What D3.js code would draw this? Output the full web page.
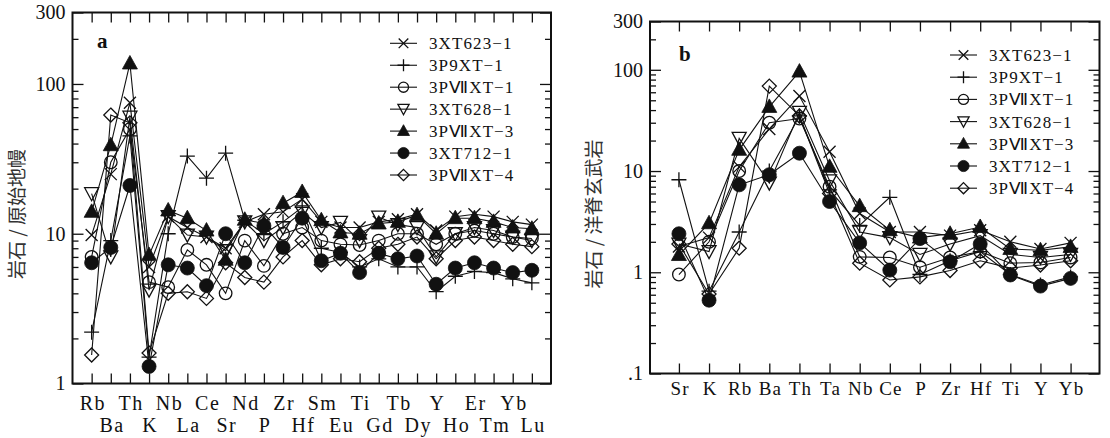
<!DOCTYPE html>
<html><head><meta charset="utf-8">
<script src="https://cdn.jsdelivr.net/npm/d3@7"></script>
<style>
html,body{margin:0;padding:0;background:#fff;}
svg{display:block;}
</style></head>
<body>
<svg id="chart" width="1110" height="438"></svg>
<script>
// ---------- DATA ----------
const seriesNames = ["3XT623\u22121","3P9XT\u22121","3P\u2166XT\u22121","3XT628\u22121","3P\u2166XT\u22123","3XT712\u22121","3P\u2166XT\u22124"];
const seriesMarkers = ["times","plus","circleOpen","triDownOpen","triUpFilled","circleFilled","diamondOpen"];

// Panel a: rock / primitive mantle
const elementsA = ["Rb","Ba","Th","K","Nb","La","Ce","Sr","Nd","P","Zr","Hf","Sm","Eu","Ti","Gd","Tb","Dy","Y","Ho","Er","Tm","Yb","Lu"];
const a_3XT623_1  = [9.8, 25, 75, 6.0, 13, 11, 9.5, 8, 12, 13.5, 14, 17, 12, 11, 11, 12, 12.5, 13.5, 10.5, 13, 13.5, 13, 12, 11.5];
const a_3P9XT_1   = [2.2, 9, 45, 1.5, 10, 33, 23.5, 34.5, 12.3, 10, 12, 15, 8, 7.5, 6, 6.8, 6.0, 6.0, 4.1, 5.2, 5.6, 5.5, 5.0, 4.7];
const a_3PVIIXT_1 = [7, 30, 50, 4.75, 4.4, 7.8, 6.2, 4.0, 9, 6.1, 10, 11, 9, 8.5, 8.4, 9, 10, 10, 8.5, 10, 10.5, 10, 9.5, 9.3];
const a_3XT628_1  = [18.5, 7, 60, 4.2, 13, 9.8, 9.5, 7.7, 12, 9, 11, 14, 11, 11.9, 9, 12.9, 11.5, 11, 7, 10, 11, 10.5, 9.5, 9];
const a_3PVIIXT_3 = [14, 39, 137, 7.2, 14.3, 12.7, 10.5, 6.7, 12.4, 11.7, 16, 19, 12.3, 10.2, 10, 11.7, 12, 13.3, 10, 12.7, 12.7, 12, 11, 10.8];
const a_3XT712_1  = [6.4, 8.1, 21, 1.3, 6.2, 5.9, 4.5, 10, 6.4, 11.3, 8.1, 12.7, 6.6, 7.4, 5.5, 7.4, 6.8, 7.1, 4.6, 5.9, 6.4, 5.9, 5.5, 5.7];
const a_3PVIIXT_4 = [1.55, 62, 55, 1.6, 4.0, 4.1, 3.7, 6.4, 5.1, 4.75, 7, 9, 6.2, 6.8, 6.5, 8, 8.5, 9.5, 6.8, 9, 9.5, 9, 8.5, 8.2];
const yTicksA = [1, 10, 100, 300];

// Panel b: rock / MORB
const elementsB = ["Sr","K","Rb","Ba","Th","Ta","Nb","Ce","P","Zr","Hf","Ti","Y","Yb"];
const b_3XT623_1  = [1.8, 2.2, 11, 26, 55, 15.5, 3.8, 2.5, 2.5, 2.3, 2.6, 2.0, 1.7, 1.95];
const b_3P9XT_1   = [8.2, 0.65, 2.5, 10, 35, 6.5, 2.9, 5.5, 0.95, 1.3, 1.6, 0.95, 0.75, 0.9];
const b_3PVIIXT_1 = [0.95, 2.0, 10, 30, 33, 7, 1.42, 1.4, 1.12, 1.4, 1.6, 1.23, 1.25, 1.4];
const b_3XT628_1  = [1.9, 1.6, 21, 7.6, 38, 8, 2.5, 2.2, 1.5, 1.9, 2.3, 1.5, 1.4, 1.5];
const b_3PVIIXT_3 = [1.48, 3.05, 16.2, 43, 96, 11, 4.5, 2.6, 2.2, 2.4, 2.8, 1.7, 1.65, 1.78];
const b_3XT712_1  = [2.4, 0.53, 7.3, 9.2, 15, 5, 1.95, 1.05, 2.15, 1.27, 1.9, 0.94, 0.73, 0.87];
const b_3PVIIXT_4 = [1.9, 0.61, 1.73, 69, 35, 6, 1.23, 0.84, 0.9, 1.04, 1.3, 1.1, 1.18, 1.3];
const yTicksB = [0.1, 1, 10, 100, 300];
const yTickLabelsB = [".1", "1", "10", "100", "300"];

// ---------- DRAWING ----------
const svg = d3.select("#chart");
const SERIF = "'Liberation Serif','Times New Roman',serif";

function markerPath(type, k) {
  const p = d3.path();
  if (type === "times") { const a = 6*k; p.moveTo(-a,-a); p.lineTo(a,a); p.moveTo(-a,a); p.lineTo(a,-a); }
  else if (type === "plus") { const a = 7.5*k; p.moveTo(-a,0); p.lineTo(a,0); p.moveTo(0,-a); p.lineTo(0,a); }
  else if (type === "circleOpen") { const r = 6.3*k; p.arc(0,0,r,0,2*Math.PI); }
  else if (type === "circleFilled") { const r = 7*k; p.arc(0,0,r,0,2*Math.PI); }
  else if (type === "triDownOpen") { p.moveTo(-7*k,-6*k); p.lineTo(7*k,-6*k); p.lineTo(0,7*k); p.closePath(); }
  else if (type === "triUpFilled") { p.moveTo(0,-8*k); p.lineTo(7.5*k,5.5*k); p.lineTo(-7.5*k,5.5*k); p.closePath(); }
  else if (type === "diamondOpen") { const a = 7*k; p.moveTo(0,-a); p.lineTo(a,0); p.lineTo(0,a); p.lineTo(-a,0); p.closePath(); }
  return p.toString();
}
function styleMarker(sel, type) {
  const filled = type === "circleFilled" || type === "triUpFilled";
  sel.attr("fill", filled ? "#111" : "none")
     .attr("stroke", "#111")
     .attr("stroke-width", filled ? 0.8 : 1.3);
}

function drawPanel(cfg) {
  const g = svg.append("g");
  const x = d3.scalePoint().domain(cfg.elements).range([cfg.left, cfg.right]).padding(cfg.pad);
  const y = d3.scaleLog().domain(cfg.yDomain).range([cfg.bottom, cfg.top]);

  const allTicks = y.ticks().filter(v => v >= cfg.yDomain[0] && v <= cfg.yDomain[1]);
  const minorTicks = allTicks.filter(v => cfg.yMajor.indexOf(v) < 0);

  const axL = g.append("g").attr("transform", `translate(${cfg.left},0)`)
    .call(d3.axisLeft(y).tickValues(minorTicks).tickSize(-6).tickSizeOuter(0).tickFormat(""));
  const axLM = g.append("g").attr("transform", `translate(${cfg.left},0)`)
    .call(d3.axisLeft(y).tickValues(cfg.yMajor).tickSize(-11).tickSizeOuter(0).tickPadding(7)
      .tickFormat((d,i) => cfg.yLabels[i]));
  const axR = g.append("g").attr("transform", `translate(${cfg.right},0)`)
    .call(d3.axisRight(y).tickValues(minorTicks).tickSize(-6).tickSizeOuter(0).tickFormat(""));
  const axRM = g.append("g").attr("transform", `translate(${cfg.right},0)`)
    .call(d3.axisRight(y).tickValues(cfg.yMajor).tickSize(-11).tickSizeOuter(0).tickFormat(""));
  const axT = g.append("g").attr("transform", `translate(0,${cfg.top})`)
    .call(d3.axisTop(x).tickSize(-10).tickSizeOuter(0).tickFormat(""));
  const axB = g.append("g").attr("transform", `translate(0,${cfg.bottom})`)
    .call(d3.axisBottom(x).tickSize(-10).tickSizeOuter(0).tickPadding(0));

  [axL, axLM, axR, axRM, axT, axB].forEach(a => {
    a.select(".domain").remove();
    a.selectAll(".tick line").attr("stroke", "#111").attr("stroke-width", 1.3);
  });
  axLM.selectAll(".tick text").attr("font-family", SERIF).attr("font-size", 20).attr("fill", "#111");
  axB.selectAll(".tick text")
    .attr("font-family", SERIF).attr("font-size", cfg.xFont).attr("fill", "#111")
    .attr("letter-spacing", cfg.xLs + "px").attr("dx", (cfg.xLs/2) + "px")
    .attr("dy", 0)
    .attr("y", (d,i) => ((cfg.twoRows && i % 2 === 1) ? cfg.row2 : cfg.row1) - cfg.bottom);

  g.append("rect").attr("x", cfg.left).attr("y", cfg.top)
    .attr("width", cfg.right - cfg.left).attr("height", cfg.bottom - cfg.top)
    .attr("fill", "none").attr("stroke", "#111").attr("stroke-width", 2);

  const line = d3.line().x((d,i) => x(cfg.elements[i])).y(d => y(d));
  cfg.series.forEach(s => {
    g.append("path").datum(s).attr("d", line).attr("fill", "none")
      .attr("stroke", "#111").attr("stroke-width", 1.1);
  });
  cfg.series.forEach((s, si) => {
    const type = seriesMarkers[si];
    g.append("g").selectAll("path").data(s).join("path")
      .attr("transform", (d,i) => `translate(${x(cfg.elements[i])},${y(d)})`)
      .attr("d", markerPath(type, 1))
      .call(styleMarker, type);
  });

  const leg = g.append("g");
  seriesNames.forEach((name, i) => {
    const yy = cfg.legY + i * cfg.legDy;
    leg.append("line").attr("x1", cfg.legX).attr("x2", cfg.legX + 27).attr("y1", yy).attr("y2", yy)
      .attr("stroke", "#111").attr("stroke-width", 1.1);
    leg.append("path").attr("transform", `translate(${cfg.legX + 13.5},${yy})`)
      .attr("d", markerPath(seriesMarkers[i], 0.8)).call(styleMarker, seriesMarkers[i]);
    leg.append("text").attr("x", cfg.legX + 39).attr("y", yy + 6)
      .attr("font-family", SERIF).attr("font-size", 17).attr("letter-spacing", "1.1px")
      .attr("fill", "#111").text(name);
  });

  g.append("text").attr("x", cfg.letterX).attr("y", cfg.letterY)
    .attr("font-family", SERIF).attr("font-size", 21).attr("font-weight", "bold")
    .attr("fill", "#111").text(cfg.letter);

  g.append("text").attr("transform", `translate(${cfg.titleX},${cfg.titleY}) rotate(-90)`)
    .attr("text-anchor", "middle").attr("dominant-baseline", "central")
    .attr("font-family", "'Noto Sans CJK SC',sans-serif").attr("font-size", 19)
    .attr("fill", "#333").text(cfg.title);
}

drawPanel({
  elements: elementsA, pad: 1.0,
  left: 72.5, right: 551, top: 12.5, bottom: 383.5,
  yDomain: [1, 300], yMajor: yTicksA, yLabels: yTicksA.map(String),
  series: [a_3XT623_1, a_3P9XT_1, a_3PVIIXT_1, a_3XT628_1, a_3PVIIXT_3, a_3XT712_1, a_3PVIIXT_4],
  twoRows: true, row1: 410, row2: 432, xFont: 20, xLs: 1.5,
  legX: 390, legY: 43.3, legDy: 21.95,
  letter: "a", letterX: 97, letterY: 48,
  title: "岩石 / 原始地幔", titleX: 15, titleY: 214
});

drawPanel({
  elements: elementsB, pad: 0.96,
  left: 650, right: 1099.5, top: 21.5, bottom: 373.5,
  yDomain: [0.1, 300], yMajor: yTicksB, yLabels: yTickLabelsB,
  series: [b_3XT623_1, b_3P9XT_1, b_3PVIIXT_1, b_3XT628_1, b_3PVIIXT_3, b_3XT712_1, b_3PVIIXT_4],
  twoRows: false, row1: 395, row2: 395, xFont: 19, xLs: 1.2,
  legX: 950, legY: 55, legDy: 22.2,
  letter: "b", letterX: 679, letterY: 61,
  title: "岩石 / 洋脊玄武岩", titleX: 592, titleY: 214
});
</script>
</body></html>
